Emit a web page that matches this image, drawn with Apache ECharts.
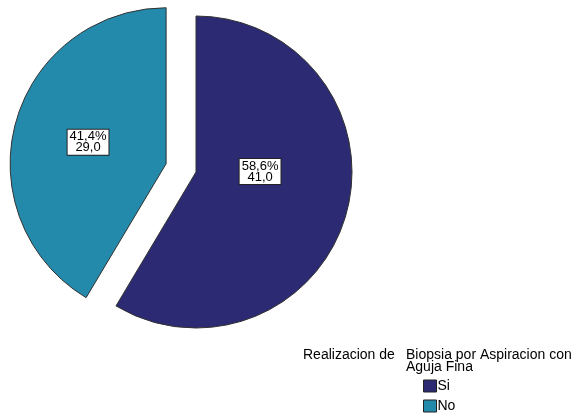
<!DOCTYPE html>
<html>
<head>
<meta charset="utf-8">
<script src="https://cdn.jsdelivr.net/npm/echarts@6/dist/echarts.min.js"></script>
<style>
html,body{margin:0;padding:0;background:#fff;}
#chart{width:581px;height:415px;}
</style>
</head>
<body>
<div id="chart"></div>
<script>
// Realizacion de Biopsia por Aspiracion con Aguja Fina: counts per answer
const categories = ['Si', 'No'];
const counts = [41, 29];
const colors = ['#2B2A72', '#238AAB'];
const exploded = [false, true];

const fmt = (v) => v.toFixed(1).replace('.', ',');
const FONT = 'Liberation Sans, Arial, sans-serif';

const pieData = categories.map((name, i) => ({
  name: name,
  value: counts[i],
  selected: exploded[i],
  itemStyle: { color: colors[i] },
  label: i === 0 ? { offset: [-14, -22] } : {}
}));

const chart = echarts.init(document.getElementById('chart'), null, { renderer: 'canvas' });
chart.setOption({
  animation: false,
  backgroundColor: '#ffffff',
  title: [
    {
      text: 'Realizacion de',
      left: 303, top: 349, padding: 0,
      textStyle: { fontFamily: FONT, fontSize: 14, fontWeight: 'normal', color: '#000', lineHeight: 12 }
    },
    {
      text: 'Biopsia por Aspiracion con\nAguja Fina',
      left: 406, top: 349, padding: 0,
      textStyle: { fontFamily: FONT, fontSize: 14, fontWeight: 'normal', color: '#000', lineHeight: 12 }
    }
  ],
  legend: {
    orient: 'vertical',
    left: 423, top: 379,
    padding: 0,
    itemWidth: 13, itemHeight: 12, itemGap: 6,
    icon: 'rect',
    selectedMode: false,
    data: categories,
    itemStyle: { borderColor: '#222', borderWidth: 1 },
    textStyle: { fontFamily: FONT, fontSize: 14, lineHeight: 12, color: '#000', padding: [0, 0, 0, -4] }
  },
  series: [{
    type: 'pie',
    center: [196, 172],
    radius: 156,
    startAngle: 90,
    clockwise: true,
    selectedMode: 'multiple',
    selectedOffset: 31,
    avoidLabelOverlap: false,
    itemStyle: { borderColor: '#333', borderWidth: 1 },
    select: { itemStyle: { borderColor: '#333', borderWidth: 1 } },
    emphasis: { disabled: true },
    label: {
      show: true,
      position: 'inside',
      formatter: (p) => fmt(p.percent) + '%\n' + fmt(p.value),
      fontFamily: FONT,
      fontSize: 13,
      lineHeight: 11,
      color: '#000',
      backgroundColor: '#fff',
      borderColor: '#222',
      borderWidth: 1,
      padding: [2, 2, 1, 2]
    },
    labelLine: { show: false },
    data: pieData
  }]
});
</script>
</body>
</html>
